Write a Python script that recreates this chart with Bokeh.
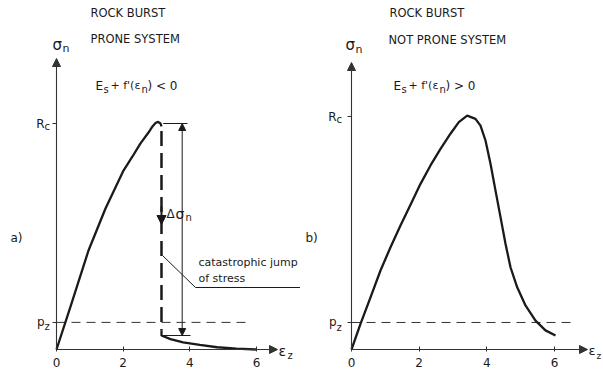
from bokeh.plotting import figure
from bokeh.layouts import row
from bokeh.models import Range1d, LinearAxis, FixedTicker, Label, Arrow, NormalHead
from bokeh.embed import file_html
from bokeh.resources import INLINE

FONT = "DejaVu Sans"
INK = "#1a1a1a"
AXC = "#333333"

# ---------------- data ----------------
x_ticks = [0, 2, 4, 6]
Rc = 1.0
pz_a = 0.12
pz_b = 0.116

# panel a) rock burst prone system
a_pre_x = [0, 0.42, 0.96, 1.47, 2.01, 2.28, 2.52, 2.76, 2.88, 2.97, 3.05, 3.12, 3.15]
a_pre_y = [0, 0.19, 0.438, 0.624, 0.792, 0.854, 0.912, 0.960, 0.987, 1.002, 1.007, 1.0, 0.987]
a_jump_x = 3.15
a_post_x = [3.15, 3.15, 3.42, 3.80, 4.30, 4.82, 5.40, 6.0]
a_post_y = [0.085, 0.062, 0.046, 0.032, 0.020, 0.010, 0.004, 0.0]

# panel b) rock burst not prone system
b_x = [0, 0.266, 0.562, 0.857, 1.153, 1.448, 1.744, 2.040, 2.335, 2.631, 2.926, 3.172,
       3.420, 3.665, 3.813, 3.961, 4.109, 4.257, 4.405, 4.552, 4.700, 4.898, 5.143,
       5.439, 5.734, 6.030]
b_y = [0, 0.110, 0.224, 0.339, 0.439, 0.532, 0.621, 0.711, 0.790, 0.861, 0.926, 0.976,
       1.004, 0.990, 0.961, 0.897, 0.797, 0.682, 0.568, 0.454, 0.353, 0.267, 0.189,
       0.124, 0.082, 0.060]


def make_fig(width, x0px, sx, sy, axis_y_px=349, height=373):
    p = figure(width=width, height=height, output_backend="svg", toolbar_location=None,
               x_axis_type=None, y_axis_type=None, min_border=0,
               x_range=Range1d(-x0px / sx, (width - x0px) / sx),
               y_range=Range1d(-(height - axis_y_px) / sy, axis_y_px / sy))
    p.title.visible = False
    p.outline_line_color = None
    p.background_fill_color = "white"
    p.border_fill_color = "white"
    p.xgrid.visible = False
    p.ygrid.visible = False
    return p


def add_axes(p, pz, xend, yend, ystandoff):
    xa = LinearAxis(fixed_location=0, ticker=FixedTicker(ticks=x_ticks),
                    axis_line_color=None, major_tick_in=3, major_tick_out=2,
                    major_tick_line_color=AXC, minor_tick_line_color=None,
                    major_label_standoff=6, major_label_text_font=FONT,
                    major_label_text_font_size="12px", major_label_text_color=INK)
    p.add_layout(xa, "below")
    ya = LinearAxis(fixed_location=0, ticker=FixedTicker(ticks=[pz, Rc]),
                    major_label_overrides={pz: "p", Rc: "R"},
                    axis_line_color=None, major_tick_in=0, major_tick_out=4,
                    major_tick_line_color=AXC, minor_tick_line_color=None,
                    major_label_standoff=ystandoff, major_label_text_font=FONT,
                    major_label_text_font_size="12px", major_label_text_color=INK)
    p.add_layout(ya, "left")
    for xs, ys, xe, ye in [(0, 0, xend, 0), (0, 0, 0, yend)]:
        p.add_layout(Arrow(x_start=xs, y_start=ys, x_end=xe, y_end=ye, line_color=AXC,
                           line_width=1.1,
                           end=NormalHead(size=8, line_color=AXC, fill_color=AXC, line_width=1)))


def lab(p, x, y, text, size, align="left"):
    p.add_layout(Label(x=x, y=y, text=text, text_font=FONT, text_font_size=f"{size}px",
                       text_align=align, text_baseline="middle", text_color=INK))


# ================= panel a =================
AX0, SXA, SYA = 56, 33.33, 226.0
pa = make_fig(300, AX0, SXA, SYA)
fx = lambda px: (px - AX0) / SXA
fy = lambda py: (349 - py) / SYA
add_axes(pa, pz_a, fx(277), fy(58), 8)

pa.line([0, fx(245)], [pz_a, pz_a], line_color=AXC, line_width=1, line_dash="9 6")
pa.line(a_pre_x, a_pre_y, line_color=INK, line_width=2.3)
pa.line([a_jump_x, a_jump_x], [a_pre_y[-1] - 0.02, a_post_y[0]], line_color=INK,
        line_width=2.5, line_dash="15 7")
pa.line(a_post_x, a_post_y, line_color=INK, line_width=2.3)
pa.add_layout(Arrow(x_start=a_jump_x, y_start=fy(206), x_end=a_jump_x, y_end=fy(224),
                    line_color=INK, line_width=2,
                    end=NormalHead(size=9, line_color=INK, fill_color=INK)))
# dimension of the stress jump
dim_x = fx(181.7)
pa.line([a_jump_x + 0.05, fx(187)], [Rc, Rc], line_color=INK, line_width=1)
pa.line([a_jump_x, fx(190)], [a_post_y[1], a_post_y[1]], line_color=INK, line_width=1)
pa.add_layout(Arrow(x_start=dim_x, y_start=a_post_y[1], x_end=dim_x, y_end=Rc,
                    line_color=INK, line_width=1,
                    start=NormalHead(size=7, line_color=INK, fill_color=INK),
                    end=NormalHead(size=7, line_color=INK, fill_color=INK)))
# leader
pa.line([fx(162), fx(195), fx(301)], [fy(255), fy(287), fy(287)], line_color=INK, line_width=1)

lab(pa, fx(90), fy(12), "ROCK BURST", 11.5)
lab(pa, fx(90), fy(38), "PRONE SYSTEM", 11.5)
lab(pa, fx(52), fy(44), "σ", 15)
lab(pa, fx(62), fy(48), "n", 11)
lab(pa, fx(95), fy(85), "E", 12)
lab(pa, fx(103), fy(89), "s", 10)
lab(pa, fx(110), fy(85), "+ f'(ε", 11)
lab(pa, fx(141), fy(89), "n", 10)
lab(pa, fx(147), fy(85), ") < 0", 12)
lab(pa, fx(44), fy(126), "c", 10)
lab(pa, fx(44), fy(326), "z", 10)
lab(pa, fx(278), fy(350), "ε", 14)
lab(pa, fx(287), fy(355), "z", 10)
lab(pa, fx(10), fy(237), "a)", 12)
lab(pa, fx(166), fy(213), "Δ", 12)
lab(pa, fx(175), fy(213), "σ", 14)
lab(pa, fx(185), fy(217), "n", 10)
lab(pa, fx(198), fy(262), "catastrophic  jump", 11)
lab(pa, fx(198), fy(278), "of stress", 11)

# ================= panel b =================
BX0, SXB, SYB = 51, 33.83, 233.0
pb = make_fig(303, BX0, SXB, SYB)
gx = lambda px: (px - 300 - BX0) / SXB
gy = lambda py: (349 - py) / SYB
add_axes(pb, pz_b, gx(587), gy(62), 11)

pb.line([0, gx(572)], [pz_b, pz_b], line_color=AXC, line_width=1, line_dash="9 6")
pb.line(b_x, b_y, line_color=INK, line_width=2.3)

lab(pb, gx(389), gy(12), "ROCK BURST", 11.5)
lab(pb, gx(388), gy(39), "NOT PRONE SYSTEM", 11.5)
lab(pb, gx(345), gy(44), "σ", 15)
lab(pb, gx(355), gy(49), "n", 11)
lab(pb, gx(393), gy(85), "E", 12)
lab(pb, gx(401), gy(89), "s", 10)
lab(pb, gx(408), gy(85), "+ f'(ε", 11)
lab(pb, gx(439), gy(89), "n", 10)
lab(pb, gx(445), gy(85), ") > 0", 12)
lab(pb, gx(336), gy(119), "c", 10)
lab(pb, gx(336), gy(327), "z", 10)
lab(pb, gx(588), gy(350), "ε", 13)
lab(pb, gx(596), gy(355), "z", 9)
lab(pb, gx(305), gy(237), "b)", 12)

layout = row(pa, pb)
open("out.html", "w").write(file_html(layout, INLINE))
